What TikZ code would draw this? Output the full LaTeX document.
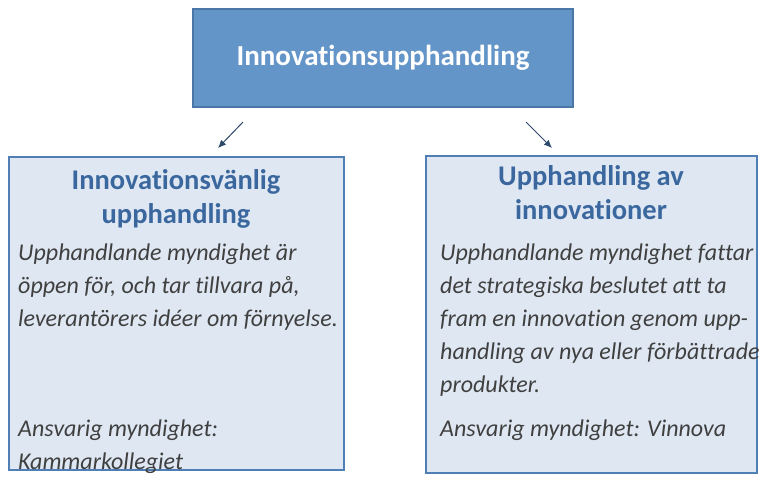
\documentclass[tikz,border=0pt]{standalone}
\usepackage{fontspec}
\usetikzlibrary{arrows.meta}
\setmainfont[Ligatures={NoCommon}]{Carlito}
\begin{document}
\begin{tikzpicture}[x=1pt,y=-1pt,
  topbox/.style={draw=topborder,fill=topfill,line width=1.5pt},
  subbox/.style={draw=subborder,fill=subfill,line width=1.5pt},
  head/.style={font=\fontsize{28.5}{34}\selectfont\bfseries,text=headcol,align=center,anchor=north,inner sep=0},
  body/.style={font=\fontsize{24}{33}\selectfont\itshape,text=bodycol,align=left,anchor=north west,inner sep=0},
  arr/.style={-{Latex[length=8pt,width=7pt]},draw=arrcol,line width=1pt}]
\definecolor{topfill}{HTML}{6495C8}
\definecolor{topborder}{HTML}{4A76A8}
\definecolor{subfill}{HTML}{DEE7F2}
\definecolor{subborder}{HTML}{4F7FB5}
\definecolor{headcol}{HTML}{3A679E}
\definecolor{bodycol}{HTML}{404040}
\definecolor{arrcol}{HTML}{2E4A6A}
\useasboundingbox (0,0) rectangle (769,481);
\draw[topbox] (193,9) rectangle (573,107);
\node[font=\fontsize{29}{34}\selectfont\bfseries,text=white] (top) at (383,58) {Innovationsupphandling};
\draw[subbox] (9,157) rectangle (344,470);
\draw[subbox] (426,156) rectangle (757,473);
\coordinate (a1) at (243,122); \coordinate (a2) at (218,148);
\coordinate (b1) at (526,122); \coordinate (b2) at (552,148);
\draw[arr] (a1) -- (a2);
\draw[arr] (b1) -- (b2);
\node[head] (lh) at (176,169) {Innovationsvänlig\\upphandling};
\node[head] (rh) at (591,165) {Upphandling av\\innovationer};
\node[body] (lb) at (18,244) {Upphandlande myndighet är\\öppen för, och tar tillvara på,\\leverantörers idéer om förnyelse.};
\node[body] (la) at (18,420) {Ansvarig myndighet:\\Kammarkollegiet};
\node[body] (rb) at (440,244) {Upphandlande myndighet fattar\\det strategiska beslutet att ta\\fram en innovation genom upp-\\handling av nya eller förbättrade\\produkter.};
\node[body] (ra) at (440,420) {Ansvarig myndighet: Vinnova};
\end{tikzpicture}
\end{document}
